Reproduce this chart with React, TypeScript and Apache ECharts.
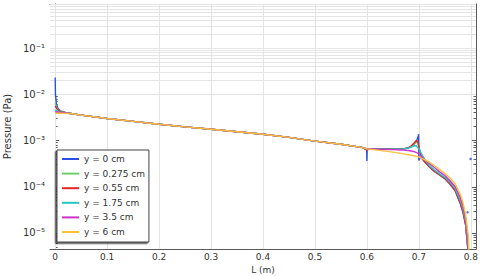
import React, { useEffect, useRef } from "react";
import * as echarts from "echarts";

// ---- Data ----
const SERIES_NAMES = ["y = 0 cm", "y = 0.275 cm", "y = 0.55 cm", "y = 1.75 cm", "y = 3.5 cm", "y = 6 cm"];
const COLORS = ["#2b4fe2", "#6fd06f", "#e02626", "#26c6c6", "#cc33cc", "#ffc03a"];

// common part, shared by every curve
const L_BASE = [0.03, 0.05, 0.1, 0.15, 0.2, 0.25, 0.3, 0.35, 0.4, 0.45, 0.5, 0.55, 0.58];
const P_BASE = [3.85e-3, 3.55e-3, 3.0e-3, 2.6e-3, 2.25e-3, 1.98e-3, 1.75e-3, 1.55e-3, 1.37e-3, 1.17e-3, 9.7e-4, 8.3e-4, 7.4e-4];

// inlet part (L near 0)
const L_START_0 = [0, 0.0005, 0.002, 0.005, 0.01, 0.02];
const P_START_0 = [2.3e-2, 1.0e-2, 6.5e-3, 5.0e-3, 4.4e-3, 4.05e-3];
const L_START_1 = [0, 0.002, 0.005, 0.01, 0.02];
const P_START_1 = [6.5e-3, 5.3e-3, 4.7e-3, 4.3e-3, 4.0e-3];
const L_START_2 = [0, 0.003, 0.006, 0.01, 0.02];
const P_START_2 = [5.6e-3, 4.9e-3, 4.5e-3, 4.2e-3, 3.95e-3];
const L_START_3 = [0, 0.005, 0.01, 0.02];
const P_START_3 = [4.6e-3, 4.3e-3, 4.1e-3, 3.95e-3];
const L_START_4 = [0, 0.01, 0.02];
const P_START_4 = [4.2e-3, 4.05e-3, 3.95e-3];
const L_START_5 = [0, 0.01, 0.02];
const P_START_5 = [3.88e-3, 3.88e-3, 3.87e-3];

// outlet part (L from about 0.59 to 0.8)
const L_END_0 = [0.59, 0.5995, 0.6, 0.6005, 0.605, 0.62, 0.65, 0.67, 0.68, 0.69, 0.695, 0.699, 0.6995, 0.7, 0.703, 0.71, 0.72, 0.73, 0.74, 0.75, 0.76, 0.77, 0.78, 0.785, 0.79, 0.794, 0.797];
const P_END_0 = [7.1e-4, 6.6e-4, 3.6e-4, 6.6e-4, 6.7e-4, 6.6e-4, 6.55e-4, 6.6e-4, 6.9e-4, 8.0e-4, 9.5e-4, 1.25e-3, 1.37e-3, 3.7e-4, 4.4e-4, 3.6e-4, 2.7e-4, 2.15e-4, 1.8e-4, 1.5e-4, 1.15e-4, 8.2e-5, 4.3e-5, 2.8e-5, 1.5e-5, 5e-6, 1e-6];
const L_END_1 = [0.59, 0.6, 0.605, 0.62, 0.65, 0.67, 0.68, 0.685, 0.69, 0.695, 0.698, 0.703, 0.71, 0.72, 0.73, 0.74, 0.75, 0.76, 0.77, 0.78, 0.785, 0.79, 0.794, 0.797];
const P_END_1 = [7.1e-4, 6.4e-4, 6.55e-4, 6.55e-4, 6.5e-4, 6.6e-4, 6.9e-4, 7.4e-4, 8.2e-4, 9.2e-4, 8.8e-4, 5.4e-4, 3.7e-4, 2.75e-4, 2.2e-4, 1.82e-4, 1.52e-4, 1.18e-4, 8.5e-5, 4.5e-5, 3.0e-5, 1.6e-5, 5e-6, 1e-6];
const L_END_2 = [0.59, 0.6, 0.605, 0.62, 0.65, 0.67, 0.68, 0.685, 0.69, 0.695, 0.698, 0.703, 0.71, 0.72, 0.73, 0.74, 0.75, 0.76, 0.77, 0.78, 0.785, 0.79, 0.794, 0.797];
const P_END_2 = [7.1e-4, 6.2e-4, 6.5e-4, 6.55e-4, 6.5e-4, 6.6e-4, 7.0e-4, 7.6e-4, 8.6e-4, 1.0e-3, 9.5e-4, 5.2e-4, 3.6e-4, 2.7e-4, 2.15e-4, 1.8e-4, 1.5e-4, 1.15e-4, 8.2e-5, 4.3e-5, 2.8e-5, 1.5e-5, 5e-6, 1e-6];
const L_END_3 = [0.59, 0.6, 0.62, 0.65, 0.67, 0.68, 0.69, 0.695, 0.7, 0.705, 0.71, 0.72, 0.73, 0.74, 0.75, 0.76, 0.77, 0.78, 0.785, 0.79, 0.795, 0.798];
const P_END_3 = [7.1e-4, 6.6e-4, 6.55e-4, 6.5e-4, 6.6e-4, 6.9e-4, 7.6e-4, 7.7e-4, 6.6e-4, 5.2e-4, 4.1e-4, 2.9e-4, 2.3e-4, 1.9e-4, 1.6e-4, 1.25e-4, 9.0e-5, 5.0e-5, 3.3e-5, 1.8e-5, 5e-6, 1e-6];
const L_END_4 = [0.59, 0.6, 0.62, 0.65, 0.67, 0.68, 0.69, 0.7, 0.71, 0.72, 0.73, 0.74, 0.75, 0.76, 0.77, 0.78, 0.785, 0.79, 0.795, 0.798];
const P_END_4 = [7.1e-4, 6.7e-4, 6.5e-4, 6.35e-4, 6.2e-4, 6.1e-4, 5.8e-4, 5.2e-4, 4.0e-4, 3.2e-4, 2.6e-4, 2.1e-4, 1.75e-4, 1.35e-4, 1.0e-4, 5.8e-5, 3.8e-5, 2.1e-5, 6e-6, 1e-6];
const L_END_5 = [0.59, 0.6, 0.62, 0.65, 0.67, 0.69, 0.7, 0.71, 0.72, 0.73, 0.74, 0.75, 0.76, 0.77, 0.78, 0.785, 0.79, 0.795, 0.799];
const P_END_5 = [7.1e-4, 6.6e-4, 6.2e-4, 5.6e-4, 5.15e-4, 4.7e-4, 4.4e-4, 3.9e-4, 3.4e-4, 2.85e-4, 2.35e-4, 1.95e-4, 1.55e-4, 1.15e-4, 6.8e-5, 4.5e-5, 2.5e-5, 9e-6, 1e-6];

// isolated points of the y = 0 cm curve near the outlet
const L_DOTS = [0.7996, 0.7938];
const P_DOTS = [4.0e-4, 2.8e-5];

const X_TICKS = [0, 0.1, 0.2, 0.3, 0.4, 0.5, 0.6, 0.7, 0.8];
const Y_MAJOR = [1e-5, 1e-4, 1e-3, 1e-2, 1e-1];
const Y_MIN = 4.5e-6;
const Y_MAX = 0.9;
const X_MIN = -0.01;
const X_MAX = 0.81;

const STARTS_L = [L_START_0, L_START_1, L_START_2, L_START_3, L_START_4, L_START_5];
const STARTS_P = [P_START_0, P_START_1, P_START_2, P_START_3, P_START_4, P_START_5];
const ENDS_L = [L_END_0, L_END_1, L_END_2, L_END_3, L_END_4, L_END_5];
const ENDS_P = [P_END_0, P_END_1, P_END_2, P_END_3, P_END_4, P_END_5];

function zip(xs: number[], ys: number[]) {
  return xs.map((x, i) => [x, ys[i]]);
}

function minorValues(): number[] {
  const out: number[] = [];
  for (let e = -6; e <= 0; e++) {
    for (let m = 2; m <= 9; m++) {
      const v = m * Math.pow(10, e);
      if (v >= Y_MIN && v <= Y_MAX) out.push(v);
    }
  }
  return out;
}

const SUP: Record<string, string> = {
  "-": "\u207B", "0": "\u2070", "1": "\u00B9", "2": "\u00B2", "3": "\u00B3",
  "4": "\u2074", "5": "\u2075", "6": "\u2076", "7": "\u2077", "8": "\u2078", "9": "\u2079",
};

function powLabel(v: number): string {
  const e = Math.round(Math.log10(v));
  return "10" + String(e).split("").map((c) => SUP[c] || c).join("");
}

const FONT = "DejaVu Sans";
const AXIS_COLOR = "#5a5a5a";
const GRID_COLOR = "#e4e4e4";
const TEXT_COLOR = "#333";

export default function App() {
  const ref = useRef<HTMLDivElement>(null);

  useEffect(() => {
    if (!ref.current) return;
    const chart = echarts.init(ref.current, undefined, { renderer: "svg" });
    const Y_MINOR = minorValues();

    const yBase = {
      type: "log" as const,
      logBase: 10,
      min: Y_MIN,
      max: Y_MAX,
      splitLine: { show: false },
      minorSplitLine: { show: false },
    };
    const xBase = {
      type: "value" as const,
      min: X_MIN,
      max: X_MAX,
      splitLine: { show: false },
    };

    const dataSeries = SERIES_NAMES.map((name, i) => ({
      name,
      type: "line",
      data: [...zip(STARTS_L[i], STARTS_P[i]), ...zip(L_BASE, P_BASE), ...zip(ENDS_L[i], ENDS_P[i])],
      showSymbol: false,
      symbol: "none",
      color: COLORS[i],
      lineStyle: { width: 1.4, color: COLORS[i] },
      xAxisIndex: 0,
      yAxisIndex: 0,
      z: 2 + i * 0.01,
      clip: true,
      emphasis: { disabled: true },
    }));

    chart.setOption({
      animation: false,
      textStyle: { fontFamily: FONT },
      grid: { left: 50, right: 4, top: 4, bottom: 27, containLabel: false, outerBoundsMode: "none" },
      legend: {
        data: SERIES_NAMES,
        orient: "vertical",
        left: 57,
        top: 150,
        icon: "rect",
        itemWidth: 17,
        itemHeight: 2,
        itemGap: 2.6,
        itemStyle: { borderWidth: 0 },
        padding: [3, 4, 4, 5],
        backgroundColor: "#ffffff",
        borderColor: "#444",
        borderWidth: 1,
        shadowColor: "rgba(0,0,0,0.65)",
        shadowBlur: 0.5,
        shadowOffsetX: -1.5,
        shadowOffsetY: 1.5,
        textStyle: { fontFamily: FONT, fontSize: 9, color: TEXT_COLOR, lineHeight: 12 },
        selectedMode: false,
      },
      xAxis: [
        {
          ...xBase,
          position: "bottom",
          name: "L (m)",
          nameLocation: "middle",
          nameGap: 14.5,
          nameTextStyle: { fontFamily: FONT, fontSize: 9, color: TEXT_COLOR },
          axisLine: { show: true, lineStyle: { color: AXIS_COLOR, width: 1 } },
          axisTick: { show: true, inside: true, length: 4, customValues: X_TICKS, lineStyle: { color: AXIS_COLOR } },
          axisLabel: { show: true, customValues: X_TICKS, fontFamily: FONT, fontSize: 9, color: TEXT_COLOR, margin: 3 },
        },
        {
          ...xBase,
          position: "top",
          axisLine: { show: true, lineStyle: { color: AXIS_COLOR, width: 1 } },
          axisTick: { show: true, inside: true, length: 4, customValues: X_TICKS, lineStyle: { color: AXIS_COLOR } },
          axisLabel: { show: false },
        },
      ],
      yAxis: [
        {
          ...yBase,
          position: "left",
          name: "Pressure (Pa)",
          nameLocation: "middle",
          nameGap: 31,
          nameTextStyle: { fontFamily: FONT, fontSize: 10, color: TEXT_COLOR },
          axisLine: { show: true, lineStyle: { color: AXIS_COLOR, width: 1 } },
          axisTick: { show: true, inside: true, length: 4, customValues: Y_MAJOR, lineStyle: { color: AXIS_COLOR } },
          axisLabel: {
            show: true,
            customValues: Y_MAJOR,
            formatter: (v: number) => powLabel(v),
            fontFamily: FONT,
            fontSize: 10,
            color: TEXT_COLOR,
            margin: 5,
          },
        },
        {
          ...yBase,
          position: "left",
          offset: 0,
          axisLine: { show: false },
          axisTick: { show: true, inside: true, length: 2.5, customValues: Y_MINOR, lineStyle: { color: AXIS_COLOR } },
          axisLabel: { show: false },
        },
        {
          ...yBase,
          position: "right",
          offset: 0,
          axisLine: { show: true, lineStyle: { color: AXIS_COLOR, width: 1 } },
          axisTick: { show: true, inside: true, length: 4, customValues: Y_MAJOR, lineStyle: { color: AXIS_COLOR } },
          axisLabel: { show: false },
        },
        {
          ...yBase,
          position: "right",
          offset: 0,
          axisLine: { show: false },
          axisTick: { show: true, inside: true, length: 2.5, customValues: Y_MINOR, lineStyle: { color: AXIS_COLOR } },
          axisLabel: { show: false },
        },
      ],
      series: [
        {
          name: "grid",
          type: "line",
          data: [],
          silent: true,
          xAxisIndex: 0,
          yAxisIndex: 0,
          z: 1,
          markLine: {
            silent: true,
            z: 1,
            symbol: ["none", "none"],
            label: { show: false },
            emphasis: { disabled: true },
            lineStyle: { color: GRID_COLOR, width: 1, type: "solid" },
            data: [
              ...X_TICKS.map((v) => ({ xAxis: v })),
              ...[...Y_MAJOR, ...Y_MINOR].map((v) => ({ yAxis: v })),
            ],
          },
        },
        ...dataSeries,
        {
          name: "dots",
          type: "scatter",
          data: zip(L_DOTS, P_DOTS),
          symbolSize: 2.5,
          color: COLORS[0],
          itemStyle: { color: COLORS[0] },
          z: 3,
          silent: true,
        },
      ],
    });

    return () => chart.dispose();
  }, []);

  return <div ref={ref} style={{ position: "absolute", left: 0, top: 0, width: 480, height: 276 }} />;
}
